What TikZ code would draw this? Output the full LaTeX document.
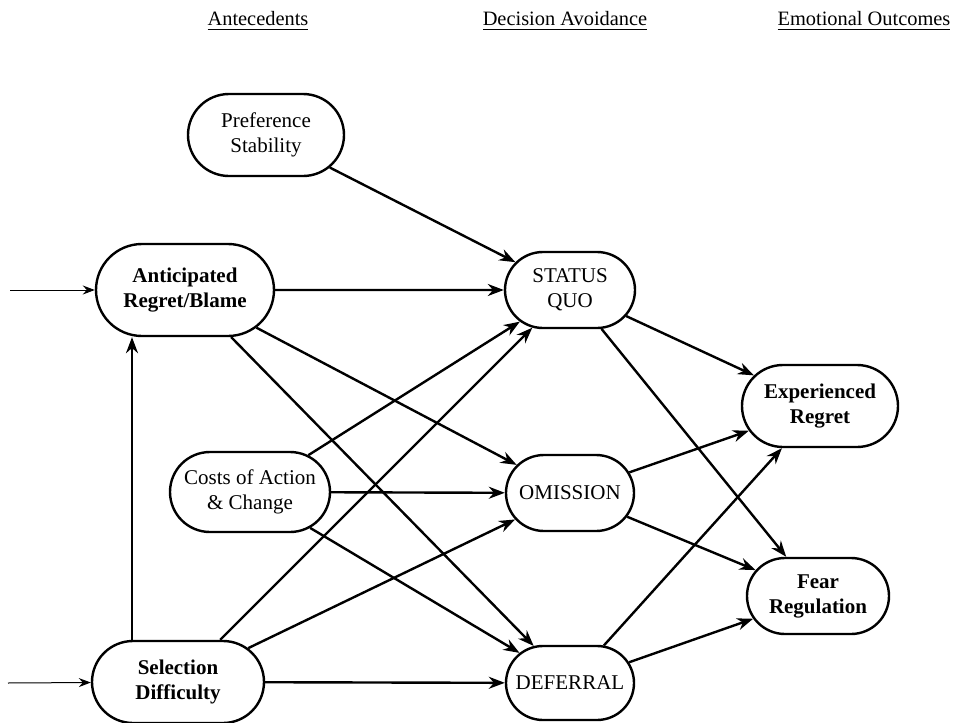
\documentclass[tikz,border=0pt]{standalone}
\usepackage{fontspec}
\setmainfont{Liberation Serif}
\usetikzlibrary{positioning,shapes.misc,arrows.meta}

\begin{document}
\begin{tikzpicture}[x=0.5pt,y=-0.5pt,-{Stealth[length=8pt,width=6pt,inset=2.6pt]},
on grid,line width=1.2pt,
box/.style={rounded rectangle,draw,
  align=center,inner xsep=2pt,minimum height=38pt,
  font=\fontsize{10.5}{12.5}\selectfont},
strong/.style={box,font=\fontsize{10.5}{12.5}\selectfont\bfseries},
head/.style={font=\fontsize{10.2}{12}\selectfont},
feed/.style={line width=0.5pt,-{Stealth[length=6pt,width=4.5pt,inset=2pt]}}]
\useasboundingbox (0,0) rectangle (955,723);
% column headings
\node[head] (h1) at (258,21) {\underline{Antecedents}};
\node[head] (h2) at (565,21) {\underline{Decision Avoidance}};
\node[head] (h3) at (864,21) {\underline{Emotional Outcomes}};
% decision avoidance
\node[box,minimum width=69pt] (sq) at (570,290) {STATUS\\QUO};
\node[box,minimum width=68pt] (om) [below=101.5pt of sq] {OMISSION};
\node[box,minimum width=68pt,minimum height=37pt] (df) [below=95pt of om] {DEFERRAL};
% antecedents
\node[box,minimum width=82pt,minimum height=41pt] (pref) at (266,135) {Preference\\Stability};
\node[strong,minimum width=93pt,minimum height=46pt] (ant) [left=192.5pt of sq] {Anticipated\\Regret/Blame};
\node[box,minimum width=84pt,minimum height=40pt] (cost) at (250,492) {Costs of Action\\\& Change};
\node[strong,minimum width=90pt,minimum height=41pt] (sel) at (178,682) {Selection\\Difficulty};
% outcomes
\node[strong,minimum width=82pt,minimum height=41pt] (exp) at (820,406) {Experienced\\Regret};
\node[strong,minimum width=75pt] (fear) at (818,596) {Fear\\Regulation};
% inputs from outside
\coordinate (inA) at (10,290);
\coordinate (inS) at (8,683);
\coordinate (vx) at (132,0);
\draw[feed] (inA) -- (ant);
\draw[feed] (inS) -- (sel);
\draw (sel.north -| vx) -- (ant.south -| vx);
% antecedents to avoidance
\draw (pref) -- (sq);
\draw (ant) -- (sq);
\draw (ant) -- (om);
\draw (ant) -- (df);
\draw (cost) -- (sq);
\draw (cost) -- (om);
\draw (cost) -- (df);
\draw (sel) -- (sq);
\draw (sel) -- (om);
\draw (sel) -- (df);
% avoidance to outcomes
\draw (sq) -- (exp);
\draw (sq) -- (fear);
\draw (om) -- (exp);
\draw (om) -- (fear);
\draw (df) -- (exp);
\draw (df) -- (fear);
\end{tikzpicture}
\end{document}
